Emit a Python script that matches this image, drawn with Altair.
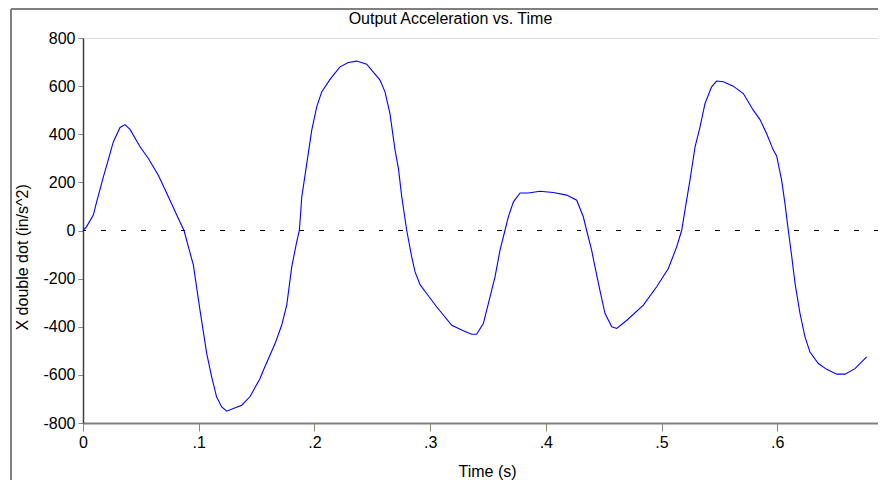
import altair as alt
import pandas as pd

# time (s) and output acceleration (in/s^2)
t_vals = [0.000, 0.003, 0.0089, 0.0118, 0.0176, 0.0205, 0.0262, 0.032, 0.0363, 0.0406,
          0.0493, 0.0565, 0.0651, 0.0752, 0.0824, 0.0873, 0.0911, 0.0954, 0.1011, 0.1069,
          0.1112, 0.1155, 0.1199, 0.1242, 0.1299, 0.1372, 0.1444, 0.153, 0.1559, 0.166,
          0.1717, 0.1761, 0.1804, 0.1847, 0.187, 0.1891, 0.1934, 0.1977, 0.202, 0.2063,
          0.2135, 0.2221, 0.2293, 0.2366, 0.2452, 0.2567, 0.261, 0.2653, 0.2697, 0.2726,
          0.2755, 0.2798, 0.2841, 0.287, 0.2913, 0.297, 0.3056, 0.3187, 0.3287, 0.3359,
          0.3402, 0.346, 0.3518, 0.3561, 0.3604, 0.3647, 0.3676, 0.372, 0.3777, 0.385,
          0.3949, 0.4065, 0.418, 0.4267, 0.4324, 0.4353, 0.4396, 0.4425, 0.4468, 0.4512,
          0.457, 0.4613, 0.47, 0.4843, 0.4958, 0.5059, 0.5131, 0.5174, 0.5217, 0.5246,
          0.529, 0.5333, 0.5376, 0.5433, 0.5476, 0.5534, 0.562, 0.5707, 0.5793, 0.5851,
          0.5908, 0.5966, 0.5995, 0.6038, 0.6067, 0.6096, 0.6126, 0.6154, 0.6197, 0.624,
          0.6283, 0.6355, 0.6428, 0.6514, 0.6586, 0.6672, 0.6773]
a_vals = [0, 15, 64, 119, 223, 271, 368, 428, 440, 420,
          348, 299, 230, 126, 50, 0, -68, -144, -331, -511,
          -608, -692, -733, -751, -740, -726, -690, -615, -581, -470,
          -394, -310, -151, -47, 0, 140, 278, 417, 514, 576,
          628, 680, 698, 704, 691, 625, 576, 486, 334, 258,
          140, 0, -110, -172, -225, -262, -317, -394, -417, -431,
          -431, -387, -276, -193, -82, 0, 57, 119, 156, 156,
          163, 158, 147, 126, 57, 0, -82, -151, -250, -345,
          -400, -407, -373, -310, -234, -158, -68, 0, 126, 209,
          348, 431, 528, 597, 621, 618, 600, 569, 500, 461,
          403, 334, 310, 209, 112, 0, -110, -220, -345, -442,
          -505, -553, -577, -597, -597, -574, -525]

x_ticks = [0, 0.1, 0.2, 0.3, 0.4, 0.5, 0.6]
x_max = 0.6871  # right edge of the visible time axis
y_ticks = [-800, -600, -400, -200, 0, 200, 400, 600, 800]

df = pd.DataFrame({"t": t_vals, "a": a_vals})

FONT = "Liberation Sans"

x_enc = alt.X(
    "t:Q",
    scale=alt.Scale(domain=[0, x_max], nice=False, zero=False),
    axis=alt.Axis(
        title="Time (s)",
        values=x_ticks,
        labelExpr="datum.value == 0 ? '0' : replace(format(datum.value, '.1f'), '0.', '.')",
        labelFlush=False,
        grid=False,
        domainColor="#808080",
        domainWidth=2,
        tickColor="#8a8f72",
        tickSize=8,
        tickWidth=1,
        labelPadding=3,
        labelFont=FONT,
        labelFontSize=16,
        labelColor="black",
        titleFont=FONT,
        titleFontSize=16,
        titleFontWeight="normal",
        titleColor="black",
        titleX=404,
        titleY=53,
        titleBaseline="alphabetic",
    ),
)
y_enc = alt.Y(
    "a:Q",
    scale=alt.Scale(domain=[-800, 800], nice=False),
    axis=alt.Axis(
        title="X double dot (in/s^2)",
        values=y_ticks,
        labelExpr="datum.value + ''",
        labelFlush=False,
        grid=False,
        domainColor="#404040",
        domainWidth=1.5,
        tickColor="#8a8f72",
        tickSize=5,
        tickWidth=1,
        labelPadding=3,
        labelFont=FONT,
        labelFontSize=16,
        labelColor="black",
        titleFont=FONT,
        titleFontSize=16,
        titleFontWeight="normal",
        titleColor="black",
        titleAngle=270,
        titleAlign="left",
        titleBaseline="alphabetic",
        titleX=-56,
        titleY=292,
    ),
)

line = alt.Chart(df).mark_line(color="#0000ff", strokeWidth=1.1, interpolate="linear").encode(
    x=x_enc, y=y_enc
)

zero = alt.Chart(df).mark_rule(color="black", strokeWidth=1.2, strokeDash=[4, 15.8]).encode(
    y=alt.datum(0)
)

frame_top = alt.Chart(df).mark_rule(color="#808080", strokeWidth=2).encode(
    x=alt.value(-72), x2=alt.value(900), y=alt.value(-29)
)
frame_left = alt.Chart(df).mark_rule(color="#808080", strokeWidth=2).encode(
    x=alt.value(-72), y=alt.value(-29), y2=alt.value(500)
)

chart = (
    alt.layer(frame_top, frame_left, zero, line)
    .properties(
        width=795,
        height=385,
        autosize=alt.AutoSizeParams(type="none"),
        padding={"left": 75, "top": 30, "right": 0, "bottom": 60},
        title=alt.TitleParams(
            "Output Acceleration vs. Time",
            font=FONT,
            fontSize=16,
            fontWeight="normal",
            color="black",
            anchor="middle",
            frame="group",
            baseline="alphabetic",
            offset=0,
            dx=-30,
            dy=32,
        ),
    )
    .configure_view(strokeWidth=0)
    .configure(background="white")
)

chart.save("out.html", embed_options={"renderer": "svg", "actions": False})
